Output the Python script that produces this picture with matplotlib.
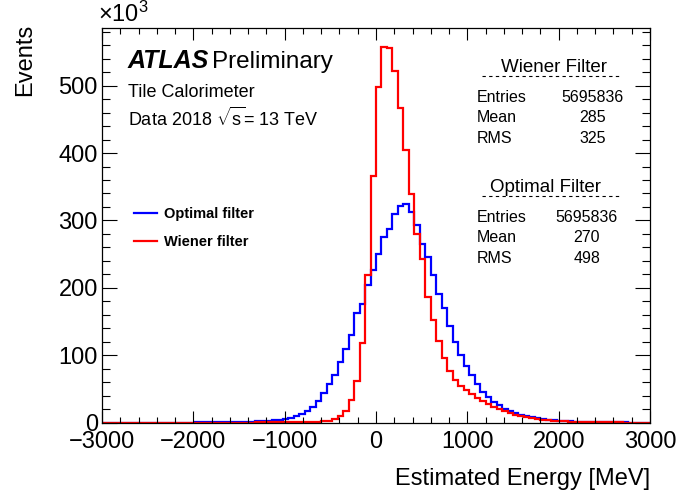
import numpy as np
import matplotlib
matplotlib.use("Agg")
import matplotlib.pyplot as plt
from matplotlib.lines import Line2D

# --- Style (ROOT / ATLAS look) ---
plt.rcParams.update({
    "font.family": ["Liberation Sans", "DejaVu Sans"],
    "mathtext.fontset": "custom",
    "mathtext.rm": "Liberation Sans",
    "mathtext.it": "Liberation Sans:italic",
    "mathtext.bf": "Liberation Sans:bold",
    "font.size": 17,
})

W, H = 678, 495

# --- Data: 100 bins of 60 MeV from -3000 to 3000, counts in units of 10^3 ---
bin_edges = np.linspace(-3000, 3000, 101)

wiener_counts = [
    0.02, 0.02, 0.02, 0.02, 0.02, 0.03, 0.03, 0.03, 0.03, 0.04,
    0.04, 0.04, 0.05, 0.05, 0.06, 0.06, 0.07, 0.08, 0.09, 0.10,
    0.11, 0.12, 0.14, 0.16, 0.18, 0.20, 0.23, 0.26, 0.30, 0.34,
    0.38, 0.42, 0.48, 0.55, 0.62, 0.70, 0.80, 0.95, 1.15, 1.5,
    2.0, 3.0, 5.0, 10.0, 18.0, 34.0, 62.0, 118.0, 219.0, 366.0,
    498.0, 557.0, 556.0, 522.0, 467.0, 404.0, 339.0, 280.0, 243.0, 187.0,
    152.0, 121.0, 96.0, 77.0, 63.0, 54.0, 48.0, 42.0, 37.0, 32.0,
    27.5, 23.5, 20.0, 17.0, 14.0, 11.5, 9.5, 8.0, 6.6, 5.4,
    4.5, 3.7, 3.0, 2.5, 2.0, 1.7, 1.4, 1.15, 0.95, 0.8,
    0.65, 0.55, 0.45, 0.38, 0.32, 0.27, 0.23, 0.2, 0.17, 0.15,
]

optimal_counts = [
    0.05, 0.05, 0.06, 0.06, 0.07, 0.08, 0.09, 0.10, 0.11, 0.12,
    0.14, 0.15, 0.17, 0.19, 0.21, 0.23, 0.26, 0.30, 0.34, 0.40,
    0.46, 0.55, 0.65, 0.80, 0.95, 1.15, 1.4, 1.7, 2.1, 2.6,
    3.2, 3.9, 4.6, 5.5, 7.5, 10.0, 13.5, 18.0, 24.0, 32.6,
    43.5, 57.3, 70.6, 90.3, 108.7, 129.8, 162.0, 175.7, 203.9, 226.0,
    249.8, 275.4, 287.8, 310.0, 321.3, 323.8, 312.5, 292.7, 265.6, 245.8,
    218.7, 191.6, 169.4, 143.2, 120.0, 100.2, 84.0, 70.6, 57.3, 46.0,
    38.0, 31.0, 26.0, 21.0, 17.0, 14.0, 11.5, 9.5, 7.8, 6.4,
    5.2, 4.3, 3.5, 2.9, 2.4, 2.0, 1.6, 1.3, 1.1, 0.9,
    0.75, 0.6, 0.5, 0.42, 0.35, 0.3, 0.25, 0.2, 0.17, 0.15,
]

series_labels = ["Optimal filter", "Wiener filter"]
stat_names = ["Entries", "Mean", "RMS"]
wiener_stats = ["5695836", "285", "325"]
optimal_stats = ["5695836", "270", "498"]


def fx(px):
    return px / W


def fy(py):
    return 1 - py / H


# --- Figure ---
fig = plt.figure(figsize=(W / 100, H / 100), dpi=100)
ax = fig.add_axes([fx(102), fy(422.7), fx(650) - fx(102), fy(28.3) - fy(422.7)])

ax.stairs(optimal_counts, bin_edges, color="#0000ff", lw=1.6, label=series_labels[0])
ax.stairs(wiener_counts, bin_edges, color="#ff0000", lw=1.6, label=series_labels[1])

ax.set_xlim(-3000, 3000)
ax.set_ylim(0, 585)
ax.set_xticks(np.arange(-3000, 3001, 1000))
ax.set_xticks(np.arange(-3000, 3001, 200), minor=True)
ax.set_yticks(np.arange(0, 501, 100))
ax.set_yticks(np.arange(0, 585, 20), minor=True)
ax.tick_params(which="both", direction="in", top=True, right=True, width=0.8, labelsize=17)
ax.tick_params(axis="x", which="major", length=8.5, pad=6)
ax.tick_params(axis="x", which="minor", length=4)
ax.tick_params(axis="y", which="major", length=11, pad=3)
ax.tick_params(axis="y", which="minor", length=5.5)
for s in ax.spines.values():
    s.set_linewidth(0.9)

# axis titles (ROOT style, aligned to the ends)
fig.text(fx(650), fy(485), "Estimated Energy [MeV]", ha="right", va="baseline", fontsize=17)
fig.text(fx(36), fy(24), "Events", rotation=90, ha="right", va="top", fontsize=17)
fig.text(fx(98), fy(22), r"$\mathregular{\times10^{3}}$", ha="left", va="baseline", fontsize=17)

# ATLAS label
fig.text(fx(128), fy(68), "ATLAS", fontsize=18, fontweight="bold", fontstyle="italic")
fig.text(fx(212), fy(68), "Preliminary", fontsize=17.5)
fig.text(fx(128), fy(97), "Tile Calorimeter", fontsize=13)
fig.text(fx(128), fy(126), r"Data 2018 $\mathregular{\sqrt{s}}$= 13 TeV", fontsize=13)

# legend
ax.legend(loc="upper left", bbox_to_anchor=(fx(134), fy(207)), bbox_transform=fig.transFigure,
          frameon=False, prop={"size": 10.5, "weight": "bold"}, handlelength=1.6,
          handletextpad=0.45, labelspacing=0.95, borderpad=0, borderaxespad=0)

# stats boxes
blocks = [("Wiener Filter", wiener_stats, 554, 67, 593),
          ("Optimal Filter", optimal_stats, 546, 187, 587)]
for title, vals, tx, ty, vx in blocks:
    fig.text(fx(tx), fy(ty), title, ha="center", va="center", fontsize=13.5)
    fig.add_artist(Line2D([fx(482), fx(620)], [fy(ty + 9), fy(ty + 9)], color="black",
                          lw=0.8, ls=(0, (3, 3)), transform=fig.transFigure))
    for k, (name, v) in enumerate(zip(stat_names, vals)):
        yy = ty + 30.5 + 20.5 * k
        fig.text(fx(477), fy(yy), name, ha="left", va="center", fontsize=11.5)
        fig.text(fx(vx), fy(yy), v, ha="center", va="center", fontsize=11.5)

fig.savefig("out.png", dpi=100)
